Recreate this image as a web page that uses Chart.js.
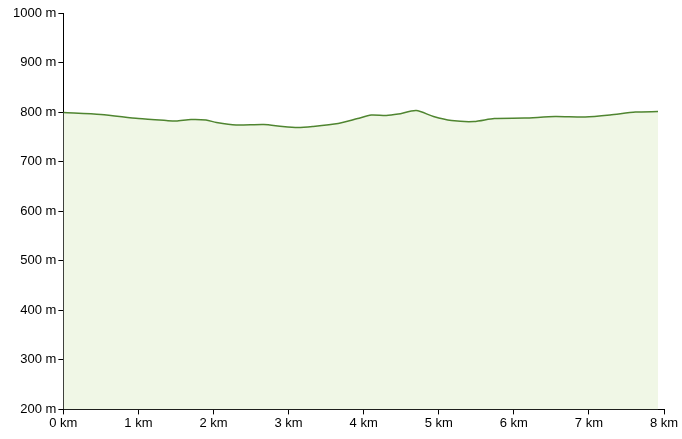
<!DOCTYPE html>
<html>
<head>
<meta charset="utf-8">
<script src="https://cdn.jsdelivr.net/npm/chart.js@4"></script>
<style>
  html, body { margin: 0; padding: 0; background: #fff; }
  #wrap { width: 682px; height: 439px; }
</style>
</head>
<body>
<div id="wrap"><canvas id="elevChart"></canvas></div>
<script>
// distance along the route (km) and elevation (m)
const distKm = [0, 0.5, 1.0, 1.37, 1.5, 1.7, 1.9, 2.04, 2.3, 2.67, 2.92, 3.12, 3.32, 3.66, 3.92, 4.1, 4.3, 4.46, 4.7, 4.93, 5.17, 5.47, 5.74, 6.14, 6.55, 6.95, 7.28, 7.62, 7.92];
const elevM = [799, 795, 787, 783, 782, 785, 784, 779, 774, 775, 771, 769, 771, 777, 787, 794, 793, 796, 803, 791, 783, 781, 787, 788, 791, 790, 794, 800, 801];

const points = distKm.map((d, i) => ({ x: d, y: elevM[i] }));

const ctx = document.getElementById('elevChart').getContext('2d');

new Chart(ctx, {
  type: 'line',
  data: {
    datasets: [{
      data: points,
      borderColor: '#4f8530',
      borderWidth: 1.5,
      backgroundColor: '#f0f7e6',
      fill: 'start',
      pointRadius: 0,
      tension: 0.25
    }]
  },
  options: {
    responsive: true,
    maintainAspectRatio: false,
    animation: false,
    layout: { padding: { top: 13, right: 18, left: 11, bottom: 7 } },
    plugins: {
      legend: { display: false },
      tooltip: { enabled: false }
    },
    scales: {
      x: {
        type: 'linear',
        min: 0,
        max: 8,
        border: { color: '#000', width: 1 },
        grid: { drawOnChartArea: false, color: '#000', tickLength: 5 },
        ticks: {
          stepSize: 1,
          color: '#000',
          padding: 1,
          maxRotation: 0,
          font: { family: 'Liberation Sans, Arial', size: 13 },
          callback: v => v + ' km'
        }
      },
      y: {
        min: 200,
        max: 1000,
        border: { color: '#000', width: 1 },
        grid: { drawOnChartArea: false, color: '#000', tickLength: 5 },
        ticks: {
          stepSize: 100,
          color: '#000',
          padding: 2,
          font: { family: 'Liberation Sans, Arial', size: 13 },
          callback: v => v + ' m'
        }
      }
    }
  }
});
</script>
</body>
</html>
